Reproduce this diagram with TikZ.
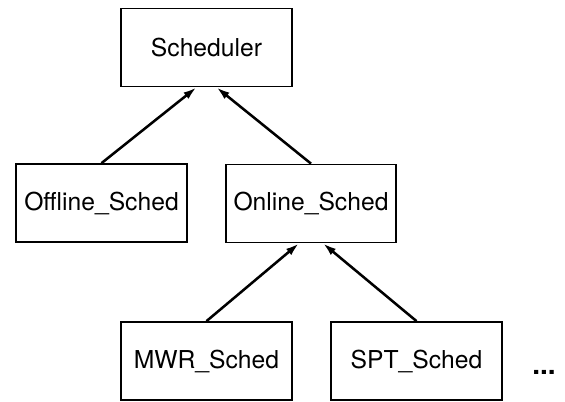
\documentclass[tikz,border=0pt]{standalone}
\usepackage{fontspec}
\setmainfont{TeX Gyre Heros}
\usetikzlibrary{arrows.meta}

\tikzset{
  classbox/.style={draw, line width=1.3pt, minimum width=128pt, minimum height=58.5pt,
    inner sep=0pt, font=\fontsize{18.5}{22}\selectfont},
  inherits/.style={line width=1.9pt, -{Latex[length=10pt,width=6pt]}}
}

\begin{document}
\begin{tikzpicture}[x=0.75pt,y=0.75pt,yscale=-1,xscale=1]
%set diagram left start at 0, and has height of 402
\path (0,0) rectangle (565,402);

%Shape: Rectangle [Scheduler]
\node[classbox] (sched) at (206.5,47.5) {Scheduler};
%Shape: Rectangle [Offline_Sched]
\node[classbox] (offline) at (101.5,203) {Offline\_Sched};
%Shape: Rectangle [Online_Sched]
\node[classbox] (online) at (311,203.5) {Online\_Sched};
%Shape: Rectangle [MWR_Sched]
\node[classbox] (mwr) at (206.5,361) {MWR\_Sched};
%Shape: Rectangle [SPT_Sched]
\node[classbox] (spt) at (416.5,361) {SPT\_Sched};
%Text Node
\node[anchor=base west, inner sep=0pt, font=\fontsize{21}{24}\selectfont\bfseries] (more) at (532,375) {...};

%Straight Lines
\draw[inherits] (offline.north) -- ([xshift=-7.5pt]sched.south);
%Straight Lines
\draw[inherits] (online.north) -- ([xshift=7.5pt]sched.south);
%Straight Lines
\draw[inherits] (mwr.north) -- ([xshift=-9pt]online.south);
%Straight Lines
\draw[inherits] (spt.north) -- ([xshift=9pt]online.south);
\end{tikzpicture}
\end{document}
